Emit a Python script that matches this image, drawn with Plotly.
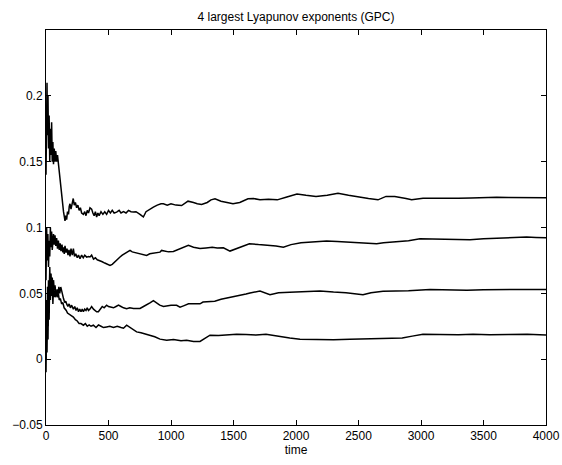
import plotly.graph_objects as go

# ---- data ----
t1 = [0, 4, 8, 12, 16, 20, 25, 30, 35, 40, 45, 50, 55, 60, 66, 72, 78, 85, 92, 100, 108, 116, 125, 133, 140, 147, 152, 158, 165, 172, 180, 186, 192, 200, 210, 218, 226, 235, 245, 255, 265, 275, 285, 299, 310, 320, 330, 340, 352, 365, 375, 385, 395, 405, 415, 425, 440, 455, 470, 485, 500, 515, 530, 545, 565, 585, 600, 620, 640, 660, 680, 700, 720, 740, 752, 765, 779, 800, 830, 859, 890, 920, 939, 970, 1000, 1040, 1085, 1110, 1136, 1180, 1210, 1245, 1290, 1320, 1352, 1400, 1450, 1496, 1550, 1616, 1660, 1712, 1780, 1850, 1920, 2008, 2080, 2160, 2250, 2336, 2420, 2500, 2580, 2656, 2720, 2790, 2832, 2880, 2925, 3016, 3100, 3200, 3300, 3400, 3500, 3605, 3700, 3800, 3900, 4000]
v1 = [0.14, 0.19, 0.21, 0.17, 0.20, 0.16, 0.185, 0.15, 0.175, 0.155, 0.18, 0.15, 0.165, 0.148, 0.16, 0.15, 0.158, 0.15, 0.155, 0.148, 0.14, 0.132, 0.126, 0.118, 0.112, 0.108, 0.105, 0.109, 0.106, 0.112, 0.110, 0.116, 0.118, 0.114, 0.120, 0.122, 0.117, 0.119, 0.115, 0.117, 0.113, 0.115, 0.111, 0.110, 0.112, 0.109, 0.113, 0.111, 0.115, 0.114, 0.111, 0.109, 0.112, 0.108, 0.111, 0.109, 0.112, 0.110, 0.112, 0.110, 0.113, 0.111, 0.113, 0.111, 0.1117, 0.113, 0.111, 0.112, 0.111, 0.113, 0.112, 0.1117, 0.112, 0.111, 0.110, 0.109, 0.108, 0.112, 0.114, 0.1155, 0.117, 0.118, 0.118, 0.117, 0.118, 0.117, 0.1167, 0.118, 0.120, 0.119, 0.118, 0.1175, 0.119, 0.121, 0.1218, 0.120, 0.119, 0.118, 0.119, 0.1218, 0.122, 0.121, 0.1215, 0.121, 0.123, 0.1255, 0.1245, 0.1236, 0.1245, 0.126, 0.1245, 0.123, 0.122, 0.121, 0.1236, 0.1235, 0.123, 0.122, 0.121, 0.1222, 0.1222, 0.122, 0.1222, 0.1225, 0.1228, 0.123, 0.1228, 0.1226, 0.1228, 0.1226]

t2 = [0, 5, 10, 15, 20, 25, 30, 35, 40, 45, 50, 55, 60, 66, 72, 78, 85, 92, 99, 106, 113, 120, 128, 135, 139, 146, 152, 160, 168, 176, 184, 192, 200, 210, 219, 228, 238, 250, 260, 272, 285, 298, 310, 325, 340, 352, 365, 380, 395, 410, 432, 450, 470, 490, 512, 530, 550, 570, 592, 610, 630, 650, 672, 690, 710, 730, 752, 775, 805, 830, 860, 890, 912, 925, 950, 980, 1019, 1050, 1072, 1100, 1139, 1180, 1232, 1280, 1330, 1370, 1419, 1472, 1520, 1570, 1627, 1700, 1780, 1840, 1899, 1960, 2040, 2130, 2245, 2330, 2420, 2520, 2600, 2645, 2700, 2800, 2900, 2992, 3100, 3200, 3300, 3392, 3500, 3600, 3700, 3845, 3920, 4000]
v2 = [0.06, 0.10, 0.075, 0.095, 0.07, 0.09, 0.078, 0.10, 0.085, 0.097, 0.083, 0.093, 0.095, 0.087, 0.094, 0.086, 0.092, 0.084, 0.090, 0.083, 0.088, 0.082, 0.087, 0.081, 0.085, 0.080, 0.086, 0.081, 0.084, 0.079, 0.083, 0.078, 0.084, 0.079, 0.084, 0.078, 0.080, 0.077, 0.079, 0.0763, 0.079, 0.077, 0.079, 0.0775, 0.078, 0.0776, 0.079, 0.076, 0.077, 0.0755, 0.075, 0.074, 0.073, 0.072, 0.0712, 0.072, 0.074, 0.076, 0.0776, 0.079, 0.080, 0.081, 0.0826, 0.0815, 0.081, 0.0805, 0.080, 0.0795, 0.0788, 0.080, 0.0805, 0.081, 0.0813, 0.0826, 0.082, 0.0815, 0.0818, 0.083, 0.0839, 0.085, 0.0864, 0.085, 0.084, 0.0845, 0.085, 0.0845, 0.0846, 0.0821, 0.084, 0.086, 0.0877, 0.087, 0.0865, 0.086, 0.0851, 0.087, 0.0885, 0.089, 0.0897, 0.0893, 0.089, 0.0885, 0.088, 0.0877, 0.0885, 0.0892, 0.090, 0.0915, 0.0912, 0.091, 0.0905, 0.0907, 0.0915, 0.092, 0.092, 0.0927, 0.0925, 0.0922]

t3 = [0, 4, 8, 12, 16, 20, 25, 30, 35, 40, 45, 50, 55, 60, 66, 72, 80, 88, 95, 103, 110, 118, 125, 132, 140, 150, 158, 165, 175, 185, 195, 205, 219, 230, 240, 250, 260, 270, 280, 290, 299, 310, 320, 330, 340, 352, 365, 380, 395, 405, 419, 435, 450, 465, 485, 500, 520, 540, 560, 580, 600, 620, 645, 670, 700, 736, 752, 780, 810, 835, 859, 880, 910, 940, 970, 1000, 1045, 1072, 1100, 1140, 1180, 1232, 1256, 1300, 1350, 1400, 1472, 1530, 1600, 1632, 1712, 1792, 1860, 1950, 2050, 2192, 2300, 2400, 2536, 2600, 2696, 2760, 2900, 3072, 3200, 3368, 3500, 3700, 3850, 4000]
v3 = [0.0, 0.045, 0.015, 0.055, 0.025, 0.06, 0.035, 0.065, 0.045, 0.058, 0.048, 0.061, 0.042, 0.054, 0.047, 0.052, 0.047, 0.053, 0.049, 0.055, 0.050, 0.0548, 0.052, 0.048, 0.046, 0.043, 0.044, 0.042, 0.040, 0.042, 0.039, 0.041, 0.038, 0.040, 0.037, 0.039, 0.036, 0.038, 0.036, 0.038, 0.036, 0.038, 0.037, 0.039, 0.037, 0.038, 0.040, 0.038, 0.037, 0.036, 0.036, 0.038, 0.040, 0.039, 0.041, 0.040, 0.0395, 0.039, 0.040, 0.041, 0.040, 0.039, 0.0384, 0.039, 0.0385, 0.0384, 0.0385, 0.040, 0.042, 0.043, 0.0445, 0.043, 0.041, 0.040, 0.0405, 0.041, 0.0409, 0.0395, 0.0405, 0.042, 0.042, 0.042, 0.0434, 0.0435, 0.044, 0.0455, 0.0468, 0.048, 0.0495, 0.0503, 0.0518, 0.049, 0.0505, 0.0508, 0.051, 0.0518, 0.051, 0.0505, 0.049, 0.0505, 0.0515, 0.0515, 0.052, 0.053, 0.0525, 0.0523, 0.0527, 0.053, 0.053, 0.053]

t4 = [0, 4, 8, 12, 16, 20, 25, 30, 35, 40, 45, 50, 55, 60, 66, 72, 80, 88, 95, 99, 106, 115, 125, 135, 145, 152, 162, 172, 185, 200, 219, 235, 250, 265, 280, 299, 315, 330, 345, 360, 379, 400, 420, 440, 460, 485, 510, 540, 570, 600, 620, 645, 670, 699, 725, 760, 800, 832, 870, 912, 965, 1020, 1080, 1125, 1180, 1232, 1270, 1312, 1380, 1450, 1525, 1600, 1680, 1760, 1850, 1950, 2032, 2150, 2300, 2432, 2550, 2650, 2752, 2850, 2930, 3016, 3150, 3300, 3416, 3550, 3700, 3850, 4000]
v4 = [-0.01, 0.03, 0.005, 0.04, 0.015, 0.055, 0.03, 0.07, 0.05, 0.065, 0.055, 0.062, 0.05, 0.06, 0.052, 0.056, 0.048, 0.052, 0.047, 0.050, 0.045, 0.046, 0.042, 0.043, 0.039, 0.0384, 0.037, 0.035, 0.034, 0.033, 0.032, 0.030, 0.029, 0.027, 0.027, 0.0258, 0.027, 0.025, 0.026, 0.025, 0.0258, 0.024, 0.026, 0.025, 0.024, 0.0245, 0.025, 0.024, 0.025, 0.024, 0.0235, 0.0258, 0.024, 0.022, 0.0207, 0.020, 0.019, 0.018, 0.017, 0.0152, 0.0144, 0.015, 0.014, 0.0144, 0.0135, 0.0135, 0.016, 0.0182, 0.018, 0.0185, 0.019, 0.0187, 0.0183, 0.019, 0.0175, 0.016, 0.0152, 0.015, 0.0148, 0.0152, 0.0155, 0.0158, 0.0155, 0.016, 0.0175, 0.019, 0.0188, 0.0185, 0.019, 0.0185, 0.0188, 0.019, 0.0184]

x_ticks = [0, 500, 1000, 1500, 2000, 2500, 3000, 3500, 4000]
y_ticks = [-0.05, 0, 0.05, 0.1, 0.15, 0.2]
y_labels = ["\u22120.05", "0", "0.05", "0.1", "0.15", "0.2"]

FONT = "Liberation Sans"

fig = go.Figure()
for tt, vv in [(t1, v1), (t2, v2), (t3, v3), (t4, v4)]:
    fig.add_trace(go.Scatter(x=tt, y=vv, mode="lines",
                             line=dict(color="black", width=1.5),
                             showlegend=False, hoverinfo="skip"))

axis_common = dict(showline=True, linecolor="black", linewidth=1, mirror="ticks",
                   ticks="inside", ticklen=5, tickcolor="black", tickwidth=1,
                   showgrid=False, zeroline=False, automargin=False,
                   tickfont=dict(family=FONT, size=12, color="black"))

fig.update_layout(
    width=562, height=465,
    margin=dict(l=46, r=16, t=30, b=40),
    paper_bgcolor="white", plot_bgcolor="white",
    title=dict(text="4 largest Lyapunov exponents (GPC)", x=0.5, xref="paper",
               y=1 - 17 / 465, yref="container", yanchor="middle", xanchor="center",
               font=dict(family=FONT, size=12, color="black")),
    xaxis=dict(range=[0, 4000], tickvals=x_ticks, ticktext=[str(v) for v in x_ticks],
               title=dict(text="time", standoff=0,
                          font=dict(family=FONT, size=12, color="black")),
               **axis_common),
    yaxis=dict(range=[-0.05, 0.25], tickvals=y_ticks, ticktext=y_labels, **axis_common),
)

fig.write_html("out.html", config={"displayModeBar": False},
               post_script="document.body.style.margin='0';")
